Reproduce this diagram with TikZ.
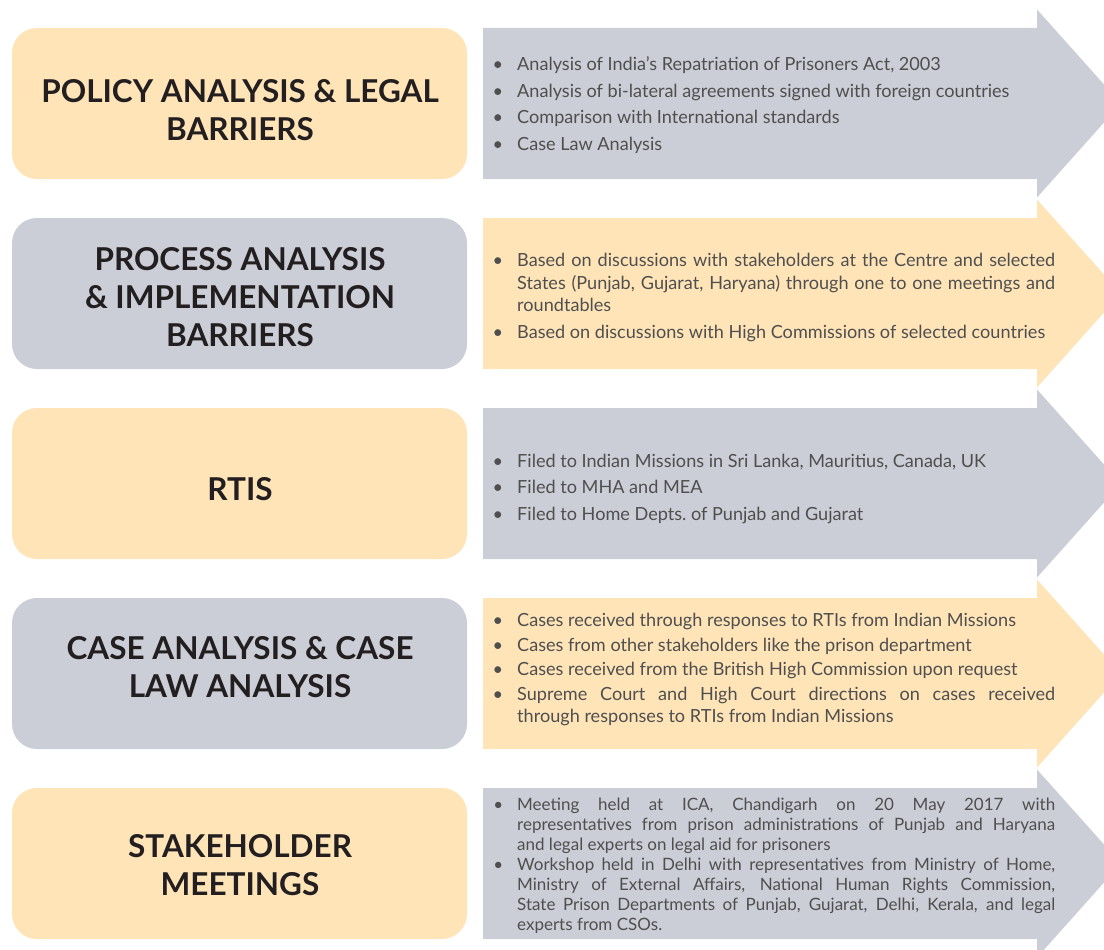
\documentclass[tikz,border=0pt]{standalone}
\usepackage{fontspec}
\setmainfont{Lato}
\usepackage{enumitem}
\definecolor{peachfill}{HTML}{FFE4B8}
\definecolor{greyfill}{HTML}{CBCDD7}
\definecolor{titletext}{HTML}{231F20}
\definecolor{bodytext}{HTML}{4F4F4F}
\setlist[itemize]{label=\textbullet,leftmargin=30pt,labelsep=14pt,topsep=0pt,partopsep=0pt,parsep=0pt,itemsep=4pt}
\tikzset{
  stagebox/.style={rounded corners=25pt,minimum width=455pt,minimum height=151pt,inner sep=0pt},
  stagetitle/.style={align=center,text=titletext,font=\fontsize{31.5}{38}\selectfont\bfseries},
  notes/.style={anchor=west,text width=568pt,align=justify,inner sep=0pt,text=bodytext,font=\fontsize{18.1}{22.5}\selectfont}
}
\begin{document}
\begin{tikzpicture}[x=1pt,y=-1pt]
\useasboundingbox (0,0) rectangle (1104,950);
% arrows on the right
\foreach \k/\col in {0/greyfill,1/peachfill,2/greyfill,3/peachfill,4/greyfill}
\fill[\col] (483,28+190*\k) -- (1037,28+190*\k) -- (1037,9.5+190*\k) -- (1121,103.5+190*\k)
  -- (1037,197.5+190*\k) -- (1037,179+190*\k) -- (483,179+190*\k) -- cycle;
% boxes on the left
\foreach \k/\col in {0/peachfill,1/greyfill,2/peachfill,3/greyfill,4/peachfill}
\node[stagebox,fill=\col] (box\k) at (239.5,103.5+190*\k) {};
\node[stagetitle] (policy) at (240,110) {POLICY ANALYSIS \& LEGAL\\BARRIERS};
\node[stagetitle] (process) at (240,297) {PROCESS ANALYSIS\\\& IMPLEMENTATION\\BARRIERS};
\node[stagetitle] (rtis) at (240,489) {RTIS};
\node[stagetitle] (cases) at (240,667) {CASE ANALYSIS \& CASE\\LAW ANALYSIS};
\node[stagetitle] (meetings) at (240,865) {STAKEHOLDER\\MEETINGS};
% notes
\node[notes] (policynotes) at (487,101) {\begin{itemize}
\item Analysis of India’s Repatriation of Prisoners Act, 2003
\item Analysis of bi-lateral agreements signed with foreign countries
\item Comparison with International standards
\item Case Law Analysis
\end{itemize}};
\node[notes] (processnotes) at (487,293) {\begin{itemize}
\item Based on discussions with stakeholders at the Centre and selected\linebreak States (Punjab, Gujarat, Haryana) through one to one meetings and\linebreak roundtables
\item Based on discussions with High Commissions of selected countries
\end{itemize}};
\node[notes] (rtisnotes) at (487,484) {\begin{itemize}
\item Filed to Indian Missions in Sri Lanka, Mauritius, Canada, UK
\item Filed to MHA and MEA
\item Filed to Home Depts.\ of Punjab and Gujarat
\end{itemize}};
\node[notes] (casesnotes) at (487,665) {\begin{itemize}[itemsep=2pt]
\item Cases received through responses to RTIs from Indian Missions
\item Cases from other stakeholders like the prison department
\item Cases received from the British High Commission upon request
\item Supreme Court and High Court directions on cases received\linebreak through responses to RTIs from Indian Missions
\end{itemize}};
\node[notes,font=\fontsize{17}{20}\selectfont] (meetingsnotes) at (487,862) {\begin{itemize}[itemsep=0pt]
\item Meeting held at ICA, Chandigarh on 20 May 2017 with\linebreak representatives from prison administrations of Punjab and Haryana\linebreak and legal experts on legal aid for prisoners
\item Workshop held in Delhi with representatives from Ministry of Home,\linebreak Ministry of External Affairs, National Human Rights Commission,\linebreak State Prison Departments of Punjab, Gujarat, Delhi, Kerala, and legal\linebreak experts from CSOs.
\end{itemize}};
\end{tikzpicture}
\end{document}
